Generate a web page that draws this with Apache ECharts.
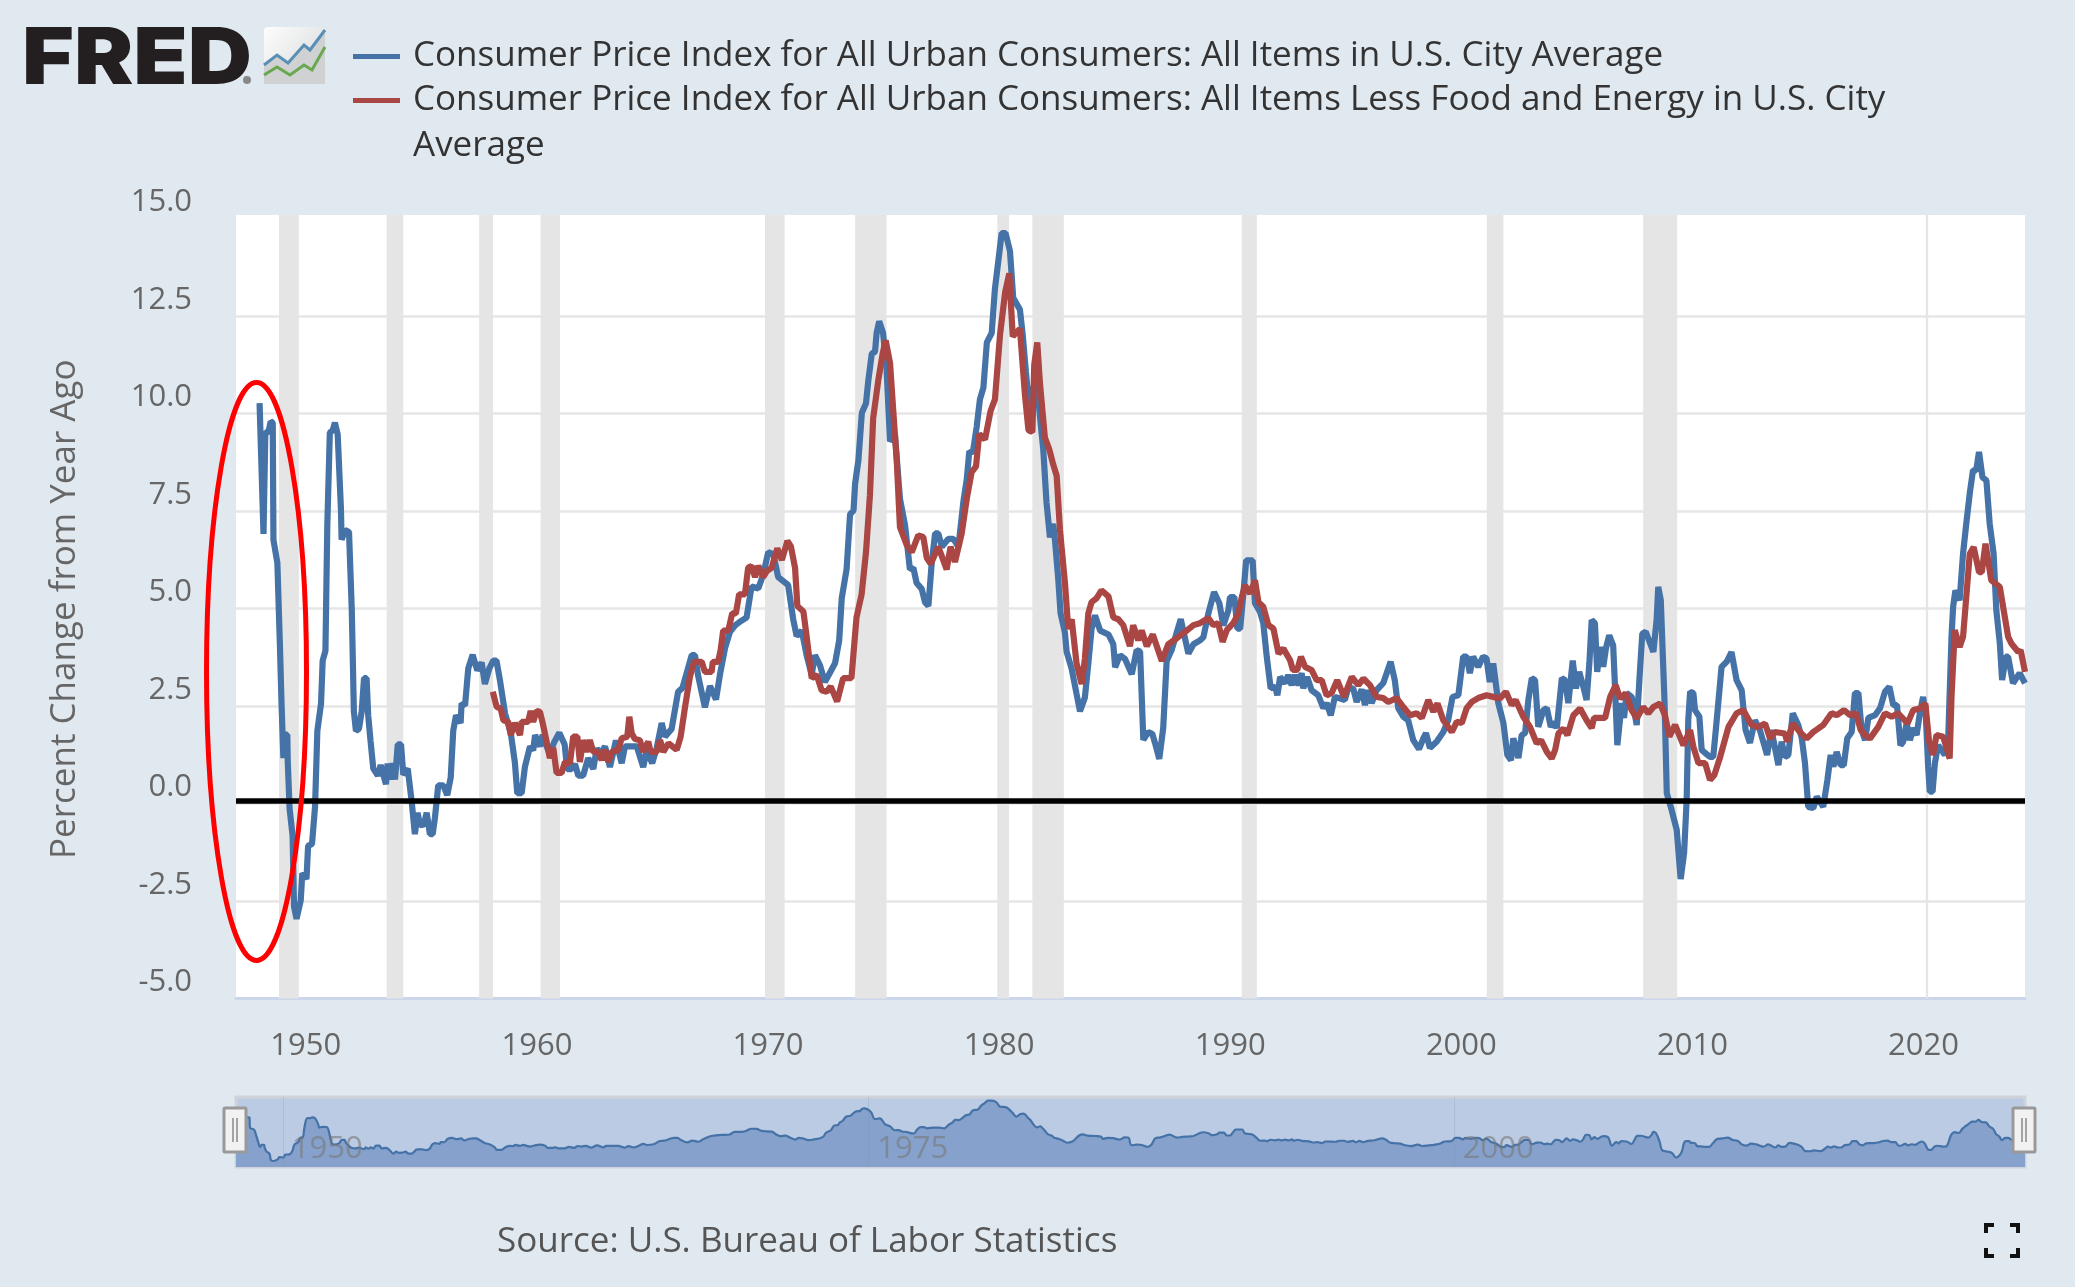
<!DOCTYPE html>
<html><head><meta charset="utf-8">
<script src="https://cdn.jsdelivr.net/npm/echarts@6/dist/echarts.min.js"></script>
<style>html,body{margin:0;padding:0;background:#e1e9f0}#c{width:2075px;height:1287px}</style>
</head><body><div id="c"></div>
<script>
const cpiName='Consumer Price Index for All Urban Consumers: All Items in U.S. City Average';
const coreName='Consumer Price Index for All Urban Consumers: All Items Less Food and Energy in U.S. City Average';
const yTicks=[-5,-2.5,0,2.5,5,7.5,10,12.5,15];
const yGridlines=[-5,-2.5,0,2.5,5,7.5,10,12.5];
const xTickYears=[1950,1960,1970,1980,1990,2000,2010,2020];
const navTickYears=[1950,1975,2000];
const recessions=[[1948.84,1949.7],[1953.5,1954.22],[1957.5,1958.1],[1960.16,1961.0],[1969.87,1970.72],[1973.77,1975.13],[1979.92,1980.43],[1981.44,1982.8],[1990.5,1991.15],[2001.1,2001.82],[2007.87,2009.34],[2020.1,2020.2]];
// the hand-drawn black baseline sits slightly above the axis' own 0 gridline in the picture
const baselineValue=0.064;
const cpiRead=[[1948.0,10.2],[1948.17,6.85],[1948.25,9.45],[1948.38,9.45],[1948.48,9.73],[1948.57,9.7],[1948.6,6.7],[1948.77,6.1],[1948.88,4.0],[1948.95,2.5],[1949.03,1.1],[1949.1,1.7],[1949.2,1.7],[1949.22,1.0],[1949.3,-0.2],[1949.43,-0.9],[1949.49,-2.7],[1949.6,-3.02],[1949.78,-2.55],[1949.85,-1.85],[1950.03,-2.0],[1950.1,-1.15],[1950.27,-1.1],[1950.4,-0.15],[1950.5,1.8],[1950.66,2.5],[1950.73,3.6],[1950.85,3.85],[1950.93,7.05],[1951.04,9.45],[1951.16,9.5],[1951.26,9.7],[1951.38,9.4],[1951.52,7.5],[1951.55,6.7],[1951.7,6.95],[1951.87,6.9],[1951.99,4.9],[1952.08,2.3],[1952.17,1.8],[1952.3,1.85],[1952.42,2.3],[1952.52,3.15],[1952.63,3.15],[1952.7,2.2],[1952.8,1.55],[1952.92,0.83],[1953.12,0.65],[1953.24,0.92],[1953.47,0.43],[1953.54,0.96],[1953.65,0.55],[1953.76,0.97],[1953.86,0.55],[1953.98,1.45],[1954.12,1.45],[1954.22,0.67],[1954.41,0.83],[1954.58,0.0],[1954.72,-0.85],[1954.84,-0.3],[1954.94,-0.62],[1955.11,-0.6],[1955.23,-0.3],[1955.37,-0.85],[1955.49,-0.85],[1955.59,-0.42],[1955.73,0.4],[1955.95,0.4],[1956.12,0.15],[1956.27,0.6],[1956.38,1.8],[1956.5,2.2],[1956.7,2.0],[1956.74,2.5],[1956.89,2.45],[1957.03,3.4],[1957.22,3.75],[1957.42,3.35],[1957.61,3.55],[1957.75,3.0],[1957.94,3.4],[1958.11,3.6],[1958.25,3.6],[1958.4,3.1],[1958.62,2.25],[1958.87,1.74],[1959.05,0.97],[1959.15,0.2],[1959.34,0.2],[1959.48,0.87],[1959.7,1.4],[1959.84,1.3],[1959.92,1.69],[1960.13,1.4],[1960.25,1.7],[1960.42,1.4],[1960.56,1.2],[1960.74,1.5],[1960.97,1.75],[1961.2,1.45],[1961.31,0.82],[1961.5,0.82],[1961.65,0.95],[1961.79,0.65],[1962.0,0.65],[1962.22,1.1],[1962.44,0.82],[1962.59,1.35],[1962.73,1.2],[1962.95,1.4],[1963.16,0.87],[1963.42,1.55],[1963.67,0.97],[1963.81,1.4],[1964.32,1.4],[1964.6,0.87],[1964.75,1.3],[1964.99,0.97],[1965.18,1.35],[1965.4,2.0],[1965.54,1.65],[1965.83,1.85],[1966.11,2.8],[1966.3,2.9],[1966.7,3.74],[1966.84,3.74],[1966.98,3.2],[1967.27,2.4],[1967.49,2.95],[1967.75,2.6],[1967.92,3.24],[1968.14,3.92],[1968.35,4.33],[1968.57,4.5],[1968.79,4.6],[1969.07,4.7],[1969.29,5.5],[1969.58,5.45],[1969.79,5.8],[1970.01,6.38],[1970.23,6.33],[1970.44,5.74],[1970.87,5.54],[1971.09,4.66],[1971.24,4.23],[1971.46,4.37],[1971.67,3.74],[1971.89,3.24],[1972.03,3.74],[1972.25,3.48],[1972.46,3.05],[1972.68,3.29],[1972.9,3.53],[1973.08,4.12],[1973.19,5.2],[1973.4,5.94],[1973.55,7.35],[1973.7,7.45],[1973.77,8.14],[1973.91,8.73],[1974.06,9.95],[1974.24,10.2],[1974.34,10.78],[1974.49,11.47],[1974.63,11.52],[1974.7,12.0],[1974.81,12.3],[1974.98,12.0],[1975.13,11.08],[1975.28,9.22],[1975.49,9.41],[1975.71,7.75],[1975.93,7.07],[1976.14,5.94],[1976.29,5.98],[1976.43,5.59],[1976.65,5.44],[1976.79,5.1],[1976.94,5.0],[1977.08,6.08],[1977.23,6.86],[1977.37,6.86],[1977.52,6.52],[1977.8,6.72],[1978.02,6.72],[1978.24,6.52],[1978.45,7.66],[1978.6,8.25],[1978.71,8.97],[1978.86,8.92],[1979.03,9.6],[1979.17,10.3],[1979.32,10.6],[1979.47,11.76],[1979.68,12.0],[1979.82,13.14],[1979.97,13.87],[1980.11,14.56],[1980.28,14.56],[1980.47,14.1],[1980.61,12.9],[1980.9,12.6],[1981.02,11.96],[1981.16,11.0],[1981.33,9.9],[1981.48,10.6],[1981.62,10.78],[1981.84,9.42],[1981.91,9.02],[1982.05,7.66],[1982.2,6.76],[1982.34,7.11],[1982.42,6.67],[1982.56,5.68],[1982.66,4.81],[1982.85,4.31],[1982.92,3.83],[1983.14,3.39],[1983.35,2.75],[1983.5,2.3],[1983.71,2.65],[1983.86,3.53],[1984.0,4.41],[1984.15,4.76],[1984.37,4.37],[1984.73,4.27],[1984.94,4.02],[1985.02,3.43],[1985.23,3.74],[1985.45,3.64],[1985.74,3.25],[1985.95,3.87],[1986.1,3.83],[1986.24,1.57],[1986.46,1.77],[1986.63,1.72],[1986.75,1.48],[1986.93,1.08],[1987.1,1.87],[1987.25,3.59],[1987.47,3.88],[1987.68,4.31],[1987.86,4.66],[1988.19,3.78],[1988.41,4.02],[1988.69,4.12],[1988.84,4.2],[1989.05,4.8],[1989.3,5.36],[1989.53,5.07],[1989.7,4.5],[1989.92,4.89],[1989.99,5.23],[1990.18,5.23],[1990.31,4.42],[1990.43,4.42],[1990.57,5.32],[1990.69,6.17],[1990.97,6.17],[1991.07,5.07],[1991.29,4.85],[1991.43,4.56],[1991.58,3.7],[1991.75,2.89],[1991.94,2.93],[1992.04,2.71],[1992.16,3.18],[1992.37,3.02],[1992.51,3.23],[1992.66,2.97],[1992.8,3.23],[1992.95,2.97],[1993.09,3.28],[1993.16,2.89],[1993.33,3.18],[1993.52,2.84],[1993.81,2.71],[1994.03,2.38],[1994.17,2.51],[1994.35,2.2],[1994.53,2.67],[1994.96,2.59],[1995.1,2.89],[1995.32,2.89],[1995.47,2.54],[1995.69,2.86],[1995.83,2.46],[1995.97,2.84],[1996.12,2.51],[1996.33,2.84],[1996.62,3.02],[1996.94,3.57],[1997.12,3.1],[1997.27,2.38],[1997.49,2.16],[1997.7,2.07],[1997.92,1.56],[1998.17,1.33],[1998.36,1.61],[1998.47,1.74],[1998.64,1.36],[1998.93,1.52],[1999.22,1.77],[1999.43,2.07],[1999.62,2.67],[1999.87,2.71],[2000.08,3.7],[2000.23,3.7],[2000.37,3.28],[2000.51,3.7],[2000.73,3.44],[2000.94,3.7],[2001.09,3.66],[2001.23,3.05],[2001.38,3.53],[2001.6,2.51],[2001.82,2.0],[2001.99,1.18],[2002.15,1.05],[2002.25,1.61],[2002.47,1.1],[2002.61,1.69],[2002.76,1.74],[2002.9,2.59],[2003.05,3.15],[2003.19,3.1],[2003.33,1.9],[2003.55,2.33],[2003.7,2.38],[2003.87,1.9],[2004.01,2.03],[2004.13,1.87],[2004.35,3.15],[2004.49,3.1],[2004.63,2.51],[2004.82,3.6],[2004.96,2.89],[2005.1,3.31],[2005.28,2.93],[2005.42,2.59],[2005.54,3.53],[2005.64,4.64],[2005.78,4.56],[2005.88,3.31],[2006.0,3.95],[2006.14,3.44],[2006.26,3.92],[2006.4,4.25],[2006.57,3.99],[2006.65,2.93],[2006.75,1.43],[2006.94,2.51],[2007.04,2.13],[2007.15,2.77],[2007.37,2.67],[2007.59,1.95],[2007.73,3.35],[2007.83,4.29],[2007.98,4.34],[2008.31,3.82],[2008.45,4.64],[2008.52,5.49],[2008.63,5.15],[2008.79,2.59],[2008.89,0.2],[2009.1,-0.23],[2009.32,-0.74],[2009.49,-2.0],[2009.64,-1.33],[2009.75,0.03],[2009.82,2.07],[2009.9,2.8],[2010.04,2.77],[2010.11,2.33],[2010.3,2.16],[2010.4,1.31],[2010.55,1.23],[2010.76,1.13],[2010.9,1.13],[2011.05,2.07],[2011.26,3.44],[2011.48,3.57],[2011.69,3.82],[2011.91,3.1],[2012.13,2.84],[2012.3,1.82],[2012.49,1.49],[2012.7,2.07],[2012.92,1.82],[2013.23,1.18],[2013.42,1.82],[2013.72,0.92],[2013.86,1.52],[2014.0,1.13],[2014.15,1.18],[2014.34,2.25],[2014.58,1.95],[2014.73,1.61],[2014.87,0.97],[2015.01,-0.15],[2015.23,-0.18],[2015.38,0.11],[2015.66,-0.15],[2015.84,0.54],[2015.98,1.18],[2016.1,0.88],[2016.24,1.26],[2016.41,0.92],[2016.55,0.92],[2016.7,1.61],[2016.89,1.77],[2017.03,2.77],[2017.18,2.77],[2017.32,1.82],[2017.47,1.56],[2017.61,2.13],[2017.9,2.2],[2018.12,2.38],[2018.33,2.8],[2018.52,2.93],[2018.69,2.46],[2018.85,2.46],[2019.0,1.43],[2019.12,1.52],[2019.27,2.0],[2019.41,1.56],[2019.55,1.87],[2019.7,1.69],[2019.84,2.25],[2019.98,2.67],[2020.1,2.16],[2020.2,0.88],[2020.27,0.24],[2020.39,0.24],[2020.49,0.97],[2020.63,1.43],[2020.78,1.31],[2020.92,1.18],[2021.06,1.48],[2021.21,4.21],[2021.28,4.98],[2021.38,5.4],[2021.56,5.15],[2021.71,6.35],[2021.85,7.12],[2022.0,7.89],[2022.14,8.48],[2022.28,8.48],[2022.4,8.95],[2022.55,8.3],[2022.72,8.22],[2022.86,7.12],[2023.03,6.35],[2023.15,4.89],[2023.3,4.05],[2023.4,3.1],[2023.56,3.7],[2023.66,3.7],[2023.87,3.02],[2024.16,3.28],[2024.39,3.02]];
const coreRead=[[1958.09,2.8],[1958.26,2.41],[1958.43,2.38],[1958.55,2.07],[1958.76,2.03],[1958.87,1.69],[1959.05,2.0],[1959.27,1.69],[1959.34,2.03],[1959.62,2.03],[1959.73,2.31],[1959.84,2.03],[1959.99,2.31],[1960.13,2.29],[1960.25,2.0],[1960.42,1.52],[1960.56,1.1],[1960.71,1.36],[1960.85,0.72],[1961.07,0.72],[1961.21,1.0],[1961.43,0.97],[1961.57,1.65],[1961.75,1.65],[1961.86,1.0],[1962.0,1.56],[1962.15,1.26],[1962.29,1.56],[1962.44,1.26],[1962.65,1.26],[1962.8,1.05],[1962.95,1.31],[1963.09,1.0],[1963.24,1.26],[1963.52,1.31],[1963.67,1.61],[1963.91,1.65],[1964.0,2.16],[1964.1,1.74],[1964.24,1.59],[1964.46,1.56],[1964.58,1.26],[1964.82,1.52],[1964.92,1.26],[1965.18,1.26],[1965.33,1.56],[1965.47,1.26],[1965.69,1.48],[1966.05,1.31],[1966.22,1.65],[1966.41,2.41],[1966.62,3.18],[1966.8,3.57],[1967.13,3.57],[1967.27,3.31],[1967.56,3.31],[1967.61,3.57],[1967.84,3.57],[1967.95,3.87],[1968.06,4.37],[1968.28,4.37],[1968.45,4.81],[1968.61,4.81],[1968.75,5.3],[1969.0,5.3],[1969.14,5.98],[1969.29,6.03],[1969.44,5.74],[1969.58,6.03],[1969.79,5.74],[1969.94,5.89],[1970.16,5.98],[1970.4,6.48],[1970.6,6.18],[1970.84,6.67],[1970.99,6.53],[1971.17,5.98],[1971.27,5.0],[1971.53,4.86],[1971.67,4.23],[1971.89,3.15],[1972.1,3.24],[1972.32,2.84],[1972.54,2.8],[1972.71,2.94],[1972.99,2.55],[1973.25,3.15],[1973.61,3.15],[1973.83,4.71],[1974.05,5.3],[1974.24,6.38],[1974.41,7.84],[1974.55,9.81],[1974.77,10.78],[1974.96,11.47],[1975.09,11.81],[1975.28,11.23],[1975.42,10.0],[1975.57,8.73],[1975.71,7.02],[1976.0,6.57],[1976.22,6.38],[1976.5,6.81],[1976.72,6.77],[1976.87,6.23],[1977.04,6.08],[1977.37,6.52],[1977.73,5.94],[1977.9,6.52],[1978.09,6.13],[1978.38,6.86],[1978.6,7.75],[1978.81,8.43],[1979.0,8.58],[1979.14,9.41],[1979.39,9.27],[1979.63,10.0],[1979.82,10.3],[1980.04,11.96],[1980.26,13.04],[1980.44,13.53],[1980.59,11.91],[1980.9,12.11],[1981.12,10.4],[1981.27,9.51],[1981.44,9.46],[1981.52,11.18],[1981.65,11.76],[1981.77,10.69],[1981.98,9.32],[1982.17,9.02],[1982.34,8.63],[1982.49,8.34],[1982.63,6.97],[1982.85,5.59],[1982.99,4.41],[1983.14,4.66],[1983.35,3.53],[1983.57,3.0],[1983.71,3.64],[1983.86,4.81],[1984.0,5.1],[1984.22,5.2],[1984.43,5.4],[1984.73,5.25],[1984.94,4.71],[1985.16,4.66],[1985.37,4.51],[1985.66,3.97],[1985.8,4.51],[1986.02,4.12],[1986.17,4.37],[1986.39,3.97],[1986.65,4.27],[1987.04,3.59],[1987.32,4.02],[1987.68,4.17],[1988.12,4.37],[1988.41,4.51],[1988.69,4.56],[1989.05,4.69],[1989.27,4.51],[1989.48,4.56],[1989.67,4.08],[1989.85,4.38],[1990.13,4.56],[1990.35,4.8],[1990.5,5.23],[1990.64,5.53],[1990.86,5.32],[1991.07,5.66],[1991.22,5.1],[1991.43,4.98],[1991.65,4.51],[1991.87,4.42],[1992.09,3.78],[1992.3,3.91],[1992.59,3.61],[1992.71,3.36],[1992.9,3.36],[1993.06,3.7],[1993.24,3.44],[1993.52,3.36],[1993.74,3.1],[1993.96,3.1],[1994.17,2.71],[1994.39,2.77],[1994.63,3.1],[1994.92,2.67],[1995.26,3.18],[1995.54,2.97],[1995.76,3.14],[1996.05,2.97],[1996.33,2.67],[1996.62,2.64],[1996.84,2.54],[1997.2,2.64],[1997.49,2.41],[1997.78,2.2],[1998.07,2.25],[1998.29,2.13],[1998.57,2.59],[1998.79,2.29],[1998.97,2.5],[1999.22,2.07],[1999.59,1.77],[1999.8,2.03],[2000.02,2.0],[2000.23,2.38],[2000.45,2.54],[2000.73,2.64],[2001.09,2.71],[2001.38,2.67],[2001.67,2.63],[2001.93,2.8],[2002.18,2.46],[2002.35,2.59],[2002.68,2.16],[2002.97,1.9],[2003.26,1.48],[2003.45,1.56],[2003.7,1.26],[2003.91,1.09],[2004.06,1.31],[2004.2,1.73],[2004.42,1.86],[2004.59,1.69],[2004.85,2.2],[2005.14,2.37],[2005.42,2.07],[2005.64,1.87],[2005.74,2.13],[2006.22,2.13],[2006.44,2.67],[2006.68,2.97],[2006.87,2.63],[2007.11,2.76],[2007.37,2.33],[2007.59,2.12],[2007.87,2.41],[2008.09,2.25],[2008.31,2.41],[2008.6,2.5],[2008.81,2.2],[2009.0,1.65],[2009.25,1.95],[2009.61,1.43],[2009.9,1.82],[2010.04,1.39],[2010.26,0.97],[2010.55,0.97],[2010.76,0.54],[2010.95,0.67],[2011.2,1.13],[2011.56,1.9],[2011.91,2.25],[2012.2,2.33],[2012.56,1.95],[2012.85,1.9],[2013.14,1.99],[2013.36,1.6],[2013.57,1.77],[2014.0,1.73],[2014.1,1.52],[2014.34,1.99],[2014.65,1.77],[2014.94,1.6],[2015.23,1.77],[2015.66,1.95],[2016.02,2.25],[2016.24,2.2],[2016.56,2.33],[2016.82,2.2],[2017.08,2.25],[2017.28,1.82],[2017.47,1.69],[2017.68,1.6],[2018.04,1.9],[2018.33,2.25],[2018.62,2.16],[2018.9,2.25],[2019.31,1.99],[2019.55,2.33],[2019.84,2.37],[2020.08,2.5],[2020.24,1.52],[2020.41,1.18],[2020.56,1.69],[2020.85,1.65],[2021.13,1.09],[2021.21,2.67],[2021.35,4.38],[2021.56,3.95],[2021.71,4.21],[2022.0,6.34],[2022.17,6.51],[2022.4,5.87],[2022.52,5.87],[2022.68,6.6],[2022.93,5.66],[2023.3,5.49],[2023.66,4.21],[2023.8,4.04],[2024.1,3.82],[2024.2,3.87],[2024.39,3.31]];
const fromBaseline=r=>r.map(([y,v])=>[y,+(v+baselineValue).toFixed(3)]);
const cpi=fromBaseline(cpiRead), core=fromBaseline(coreRead);

const FONT='"Open Sans"';
const chart=echarts.init(document.getElementById('c'),null,{renderer:'canvas'});
const LEFT=236,WIDTH=1789;
chart.setOption({
  animation:false,
  backgroundColor:'#e1e9f0',
  textStyle:{fontFamily:FONT},
  grid:[
    {left:LEFT,top:215,width:WIDTH,height:783.5,show:true,backgroundColor:'#fff',borderWidth:0},
    {left:LEFT,top:1097,width:WIDTH,height:70,show:true,backgroundColor:'#bccbe4',borderColor:'#cfd3d9',borderWidth:3}
  ],
  xAxis:[
    {type:'value',gridIndex:0,min:1946.98,max:2024.39,splitLine:{show:false},
     axisTick:{show:false},
     axisLine:{show:true,onZero:false,lineStyle:{color:'#ccd6eb',width:3}},
     axisLabel:{customValues:xTickYears,formatter:v=>String(v),color:'#666',fontSize:31,fontFamily:FONT,margin:32}},
    {type:'value',gridIndex:1,min:1948,max:2024.39,z:10,
     axisLine:{show:false},
     axisTick:{show:false,customValues:navTickYears},
     splitLine:{show:true,lineStyle:{color:'rgba(120,140,170,0.22)',width:1}},
     axisLabel:{customValues:navTickYears,inside:true,formatter:v=>String(v),color:'rgba(120,120,120,0.6)',fontSize:31,fontFamily:FONT,margin:2,align:'left',padding:[0,0,0,9]}}
  ],
  yAxis:[
    {type:'value',gridIndex:0,min:-5,max:15.09,
     name:'Percent Change from Year Ago',nameLocation:'middle',nameRotate:90,nameGap:153,
     nameTextStyle:{color:'#666',fontSize:35,fontFamily:FONT,padding:[0,5,0,0]},
     axisLine:{show:false},axisTick:{show:false,customValues:yGridlines},
     splitLine:{lineStyle:{color:'#e6e6e6',width:2.5}},
     axisLabel:{customValues:yTicks,color:'#666',fontSize:31,fontFamily:FONT,margin:44,verticalAlign:'bottom',lineHeight:32,formatter:v=>v.toFixed(1)}},
    {type:'value',gridIndex:1,min:-4.7,max:15.7,show:false,splitLine:{show:false}}
  ],
  legend:{
    show:true,orient:'vertical',left:353,top:39,padding:0,itemWidth:47,itemHeight:5,itemGap:9,icon:'rect',
    data:[cpiName,coreName],
    formatter:n=>n===coreName?n.replace(/ Average$/,''):n,
    textStyle:{color:'#333',fontSize:35,fontFamily:FONT,padding:[0,0,0,8]}
  },
  series:[
    {name:cpiName,type:'line',xAxisIndex:0,yAxisIndex:0,data:cpi,showSymbol:false,symbol:'none',z:3,
     lineStyle:{color:'#4572a7',width:6.2},itemStyle:{color:'#4572a7'},
     markArea:{silent:true,itemStyle:{color:'#e5e5e5'},data:recessions.map(r=>[{xAxis:r[0]},{xAxis:r[1]}])}},
    {name:coreName,type:'line',xAxisIndex:0,yAxisIndex:0,data:core,showSymbol:false,symbol:'none',z:4,
     lineStyle:{color:'#aa4643',width:6.2},itemStyle:{color:'#aa4643'},
     markLine:{silent:true,symbol:'none',label:{show:false},z:6,animation:false,
       lineStyle:{color:'#000',width:5.5,type:'solid'},data:[{yAxis:baselineValue}]}},
    {name:'nav',type:'line',xAxisIndex:1,yAxisIndex:1,data:cpi,showSymbol:false,symbol:'none',z:3,smooth:0.4,
     lineStyle:{color:'#4572a7',width:2.2},areaStyle:{color:'#86a1cb',opacity:1,origin:'start'}}
  ],
  graphic:[
    {type:'text',left:413,top:129,style:{text:'Average',font:'35px "Open Sans"',fill:'#333'},z:50},
    {type:'text',x:497,y:1225,style:{text:'Source: U.S. Bureau of Labor Statistics',font:'35px "Open Sans"',fill:'#555'},z:50},
    // FRED logo
    {type:'text',x:22,y:22,scaleX:1.14,style:{text:'FRED',font:'900 78px Inter',fill:'#231f20'},z:50},
    {type:'circle',shape:{cx:247,cy:80,r:4},style:{fill:'#888'},z:50},
    {type:'rect',shape:{x:264,y:27,width:61,height:57,r:4},style:{fill:new echarts.graphic.LinearGradient(0,0,1,1,[{offset:0,color:'#fdfdfd'},{offset:1,color:'#d4d6d8'}])},z:50},
    {type:'polygon',shape:{points:[[264,65],[277,55],[288,63],[304,45],[310,50],[325,30],[325,84],[264,84]]},style:{fill:'#cfd1d3'},z:50},
    {type:'polyline',shape:{points:[[264,65],[277,55],[288,63],[304,45],[310,50],[325,30]]},style:{stroke:'#5a8fb5',lineWidth:3,fill:null},z:51},
    {type:'polyline',shape:{points:[[264,75],[277,67],[290,75],[304,65],[312,70],[325,47]]},style:{stroke:'#6aa84f',lineWidth:3,fill:null},z:51},
    // navigator handles
    ...[235,2024].flatMap(cx=>[
      {type:'rect',shape:{x:cx-11,y:1108,width:22,height:44,r:1},style:{fill:'#f2f2f2',stroke:'#999',lineWidth:3},z:60},
      {type:'line',shape:{x1:cx-2,y1:1118,x2:cx-2,y2:1142},style:{stroke:'#888',lineWidth:1.5},z:61},
      {type:'line',shape:{x1:cx+2,y1:1118,x2:cx+2,y2:1142},style:{stroke:'#888',lineWidth:1.5},z:61}
    ]),
    // full-screen icon
    {type:'polyline',shape:{points:[[1986,1233],[1986,1225],[1994,1225]]},style:{stroke:'#111',lineWidth:4,fill:null},z:50},
    {type:'polyline',shape:{points:[[2010,1225],[2018,1225],[2018,1233]]},style:{stroke:'#111',lineWidth:4,fill:null},z:50},
    {type:'polyline',shape:{points:[[1986,1248],[1986,1256],[1994,1256]]},style:{stroke:'#111',lineWidth:4,fill:null},z:50},
    {type:'polyline',shape:{points:[[2010,1256],[2018,1256],[2018,1248]]},style:{stroke:'#111',lineWidth:4,fill:null},z:50},
    // annotation ellipse
    {type:'ellipse',shape:{cx:256.5,cy:671.5,rx:50,ry:289},style:{fill:null,stroke:'#ff0000',lineWidth:5},z:70}
  ]
});
</script></body></html>
